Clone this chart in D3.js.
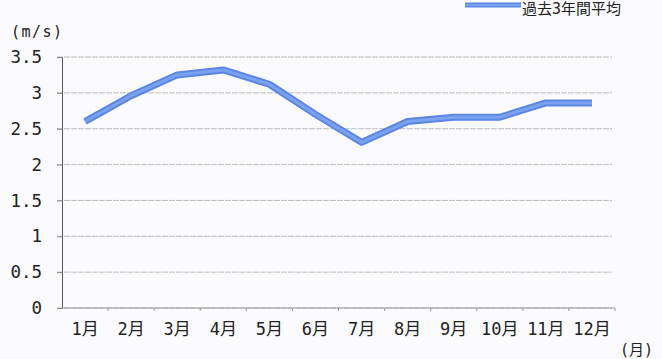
<!DOCTYPE html>
<html>
<head>
<meta charset="utf-8">
<script src="https://cdn.jsdelivr.net/npm/d3@7/dist/d3.min.js"></script>
<style>
  html, body { margin: 0; padding: 0; background: #fbfbfd; }
  svg { display: block; }
  text { font-family: "DejaVu Sans Mono", "Noto Sans CJK JP", monospace; fill: #222; }
</style>
</head>
<body>
<svg id="chart" width="662" height="359"></svg>
<script>
// Monthly average wind speed (m/s), three-year mean
const months = ["1月","2月","3月","4月","5月","6月","7月","8月","9月","10月","11月","12月"];
const windSpeed = [2.6, 2.96, 3.25, 3.32, 3.12, 2.7, 2.31, 2.6, 2.66, 2.66, 2.86, 2.86];
const yTicks = [0, 0.5, 1, 1.5, 2, 2.5, 3, 3.5];
const seriesName = "過去3年間平均";

const svg = d3.select("#chart");
const plotLeft = 62, plotRight = 615, plotTop = 57, plotBottom = 308;

const x = d3.scaleBand().domain(months).range([plotLeft, plotRight]);
const y = d3.scaleLinear().domain([0, 3.5]).range([plotBottom, plotTop]);

// horizontal gridlines
svg.append("g")
  .selectAll("line")
  .data(yTicks)
  .join("line")
  .attr("x1", plotLeft - 5).attr("x2", 612)
  .attr("y1", d => y(d)).attr("y2", d => y(d))
  .attr("stroke", "#bdbdc3").attr("stroke-width", 1)
  .attr("stroke-dasharray", "6,1");

// y axis
const yAxis = svg.append("g")
  .attr("transform", `translate(${plotLeft},0)`)
  .call(d3.axisLeft(y).tickValues(yTicks).tickSize(5).tickPadding(15)
    .tickFormat(d => String(d)));
yAxis.select(".domain").attr("stroke", "#555").attr("stroke-width", 1);
yAxis.selectAll(".tick line").attr("stroke", "#888");
yAxis.selectAll("text").attr("font-size", 17.5).attr("fill", "#222");

// x axis with ticks at band boundaries
const xAxis = svg.append("g")
  .attr("transform", `translate(0,${plotBottom})`);
xAxis.append("line")
  .attr("x1", plotLeft).attr("x2", plotRight).attr("y1", 0).attr("y2", 0)
  .attr("stroke", "#9a9aa0");
xAxis.selectAll("line.t")
  .data(months)
  .join("line").attr("class", "t")
  .attr("x1", d => x(d) + x.bandwidth()).attr("x2", d => x(d) + x.bandwidth())
  .attr("y1", 0).attr("y2", 3)
  .attr("stroke", "#9a9aa0");
xAxis.selectAll("text")
  .data(months)
  .join("text")
  .attr("x", d => x(d) + x.bandwidth() / 2)
  .attr("y", 27)
  .attr("text-anchor", "middle")
  .attr("font-size", 17)
  .text(d => d);

// unit labels
svg.append("text").attr("x", 11).attr("y", 37).attr("font-size", 15)
  .attr("letter-spacing", 1.5).text("(m/s)");
svg.append("text").attr("x", 620).attr("y", 355).attr("font-size", 15).text("(月)");

// data line
const line = d3.line()
  .x((d, i) => x(months[i]) + x.bandwidth() / 2)
  .y(d => y(d));
svg.append("path").datum(windSpeed)
  .attr("d", line).attr("fill", "none")
  .attr("stroke", "#5b86e2").attr("stroke-width", 7)
  .attr("stroke-linejoin", "round");
svg.append("path").datum(windSpeed)
  .attr("d", line).attr("fill", "none")
  .attr("stroke", "#7aa2f0").attr("stroke-width", 3)
  .attr("stroke-linejoin", "round");

// legend
svg.append("line").attr("x1", 465).attr("x2", 521).attr("y1", 5).attr("y2", 5)
  .attr("stroke", "#5b86e2").attr("stroke-width", 5);
svg.append("line").attr("x1", 465).attr("x2", 521).attr("y1", 5).attr("y2", 5)
  .attr("stroke", "#7aa2f0").attr("stroke-width", 2);
svg.append("text").attr("x", 522).attr("y", 14).attr("font-size", 15)
  .attr("font-family", "Noto Sans CJK JP").text(seriesName);
</script>
</body>
</html>
